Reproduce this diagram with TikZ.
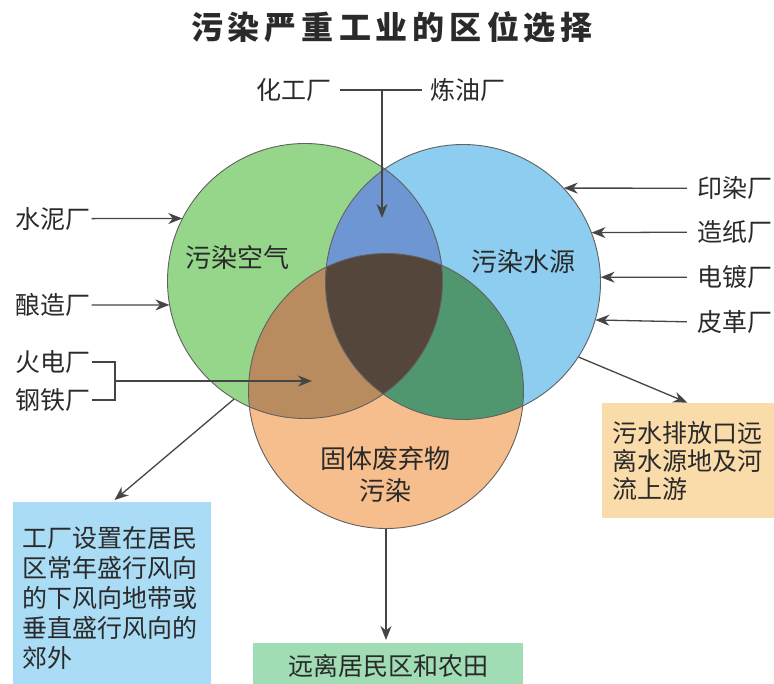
\documentclass[tikz,border=0pt]{standalone}
\usepackage{fontspec}
\setmainfont{Noto Sans CJK SC}
\usepackage{tikz}
\usetikzlibrary{arrows.meta,positioning}

\definecolor{airc}{HTML}{96D68A}
\definecolor{waterc}{HTML}{8CCDF0}
\definecolor{soilc}{HTML}{F6BE8C}
\definecolor{airwaterc}{HTML}{6E96D2}
\definecolor{airsoilc}{HTML}{B98C5F}
\definecolor{watersoilc}{HTML}{50966E}
\definecolor{allc}{HTML}{55463C}
\definecolor{windc}{HTML}{AADCF5}
\definecolor{farmc}{HTML}{A0DCB4}
\definecolor{sewc}{HTML}{FADCAA}
\definecolor{linec}{HTML}{454545}
\definecolor{txtc}{HTML}{2A2A2A}

\begin{document}
\begin{tikzpicture}[x=1pt,y=-1pt,
  venn/.style={circle,minimum size=275pt,inner sep=0pt},
  ring/.style={draw=linec!85,line width=0.9pt},
  lbl/.style={text=txtc,inner sep=1pt,font={\fontsize{25pt}{30pt}\selectfont}},
  inlbl/.style={text=txtc,align=center,font={\fontsize{26pt}{32pt}\selectfont}},
  boxtxt/.style={text=txtc,align=left,inner sep=0pt,font={\fontsize{25pt}{30pt}\selectfont}},
  arr/.style={draw=linec,line width=1.3pt,-{Stealth[length=14pt,width=11pt,inset=4.5pt]}},
  link/.style={draw=linec,line width=1.3pt}]
\useasboundingbox (0,0) rectangle (774,683);

% title
\node[text=txtc,font={\fontsize{32pt}{34pt}\selectfont\bfseries}] (title) at (392,27)
  {污\kern5pt 染\kern5pt 严\kern5pt 重\kern5pt 工\kern5pt 业\kern5pt 的\kern5pt 区\kern5pt 位\kern5pt 选\kern5pt 择};

% the three circles
\node[venn,fill=airc] (air) at (305,281) {};
\node[venn,fill=waterc] (water) at (463,282) {};
\node[venn,fill=soilc] (soil) at (386,391) {};

% overlaps
\begin{scope}
  \clip (water.center) circle[radius=137.5pt];
  \fill[watersoilc] (soil.center) circle[radius=137.5pt];
\end{scope}
\begin{scope}
  \clip (air.center) circle[radius=137.5pt];
  \fill[airwaterc] (water.center) circle[radius=137.5pt];
  \fill[airsoilc] (soil.center) circle[radius=137.5pt];
  \clip (water.center) circle[radius=137.5pt];
  \fill[allc] (soil.center) circle[radius=137.5pt];
\end{scope}
\foreach \c in {air,water,soil}
  \draw[ring] (\c.center) circle[radius=137.5pt];

\node[inlbl] (airtxt) at (237,258) {污染空气};
\node[inlbl] (watertxt) at (523,262) {污染水源};
\node[inlbl] (soiltxt) at (385,474) {固体废弃物\\污染};

% top
\node[lbl] (chem) at (294,90) {化工厂};
\node[lbl] (oil) at (468,90) {炼油厂};
\coordinate (junc) at (382,90);
\coordinate (topin) at (382,218);
\draw[link,shorten <=7pt,shorten >=7pt] (chem.east) -- (oil.west);
\draw[arr] (junc) -- (topin);

% left
\node[lbl] (cement) at (53,218.6) {水泥厂};
\node[lbl] (brew) at (53,304.9) {酿造厂};
\node[lbl] (power) at (53,362) {火电厂};
\node[lbl] (steel) at (53,400) {钢铁厂};
\draw[arr] (cement.east) -- (air.153);
\draw[arr] (brew.east) -- (air.190);
\coordinate (brk) at (115,381);
\coordinate (brkin) at (312,381);
\draw[link] (power.east) -| (brk) |- (steel.east);
\draw[arr] (brk) -- (brkin);

% right
\node[lbl] (dye) at (734.5,188.2) {印染厂};
\node[lbl] (paper) at (734.5,232.1) {造纸厂};
\node[lbl] (plate) at (734.5,277.2) {电镀厂};
\node[lbl] (leather) at (734.5,322) {皮革厂};
\draw[arr,shorten <=9pt] (dye.west) -- (water.43);
\draw[arr,shorten <=9pt] (paper.west) -- (water.21.3);
\draw[arr,shorten <=9pt] (plate.west) -- (water.2);
\draw[arr,shorten <=9pt] (leather.west) -- (water.-16.9);

% boxes
\node[boxtxt,fill=windc,anchor=north west,text width=180pt,inner xsep=9pt,minimum height=192pt] (windbox) at (13,502)
  {工厂设置在居民\\区常年盛行风向\\的下风向地带或\\垂直盛行风向的\\郊外};
\node[boxtxt,fill=sewc,anchor=north west,text width=152pt,inner xsep=10pt,minimum height=115pt,font={\fontsize{25pt}{28pt}\selectfont}] (sewbox) at (602,403)
  {污水排放口远\\离水源地及河\\流上游};
\node[boxtxt,fill=farmc,anchor=north,minimum width=270pt,minimum height=46pt] (farmbox) at (388,643)
  {远离居民区和农田};

\draw[arr,shorten >=3pt] (air.239.5) -- (windbox.north);
\draw[arr,shorten >=1pt] (water.-33.7) -- (sewbox.north);
\draw[arr,shorten >=3pt] (soil.south) -- (soil.south |- farmbox.north);
\end{tikzpicture}
\end{document}
